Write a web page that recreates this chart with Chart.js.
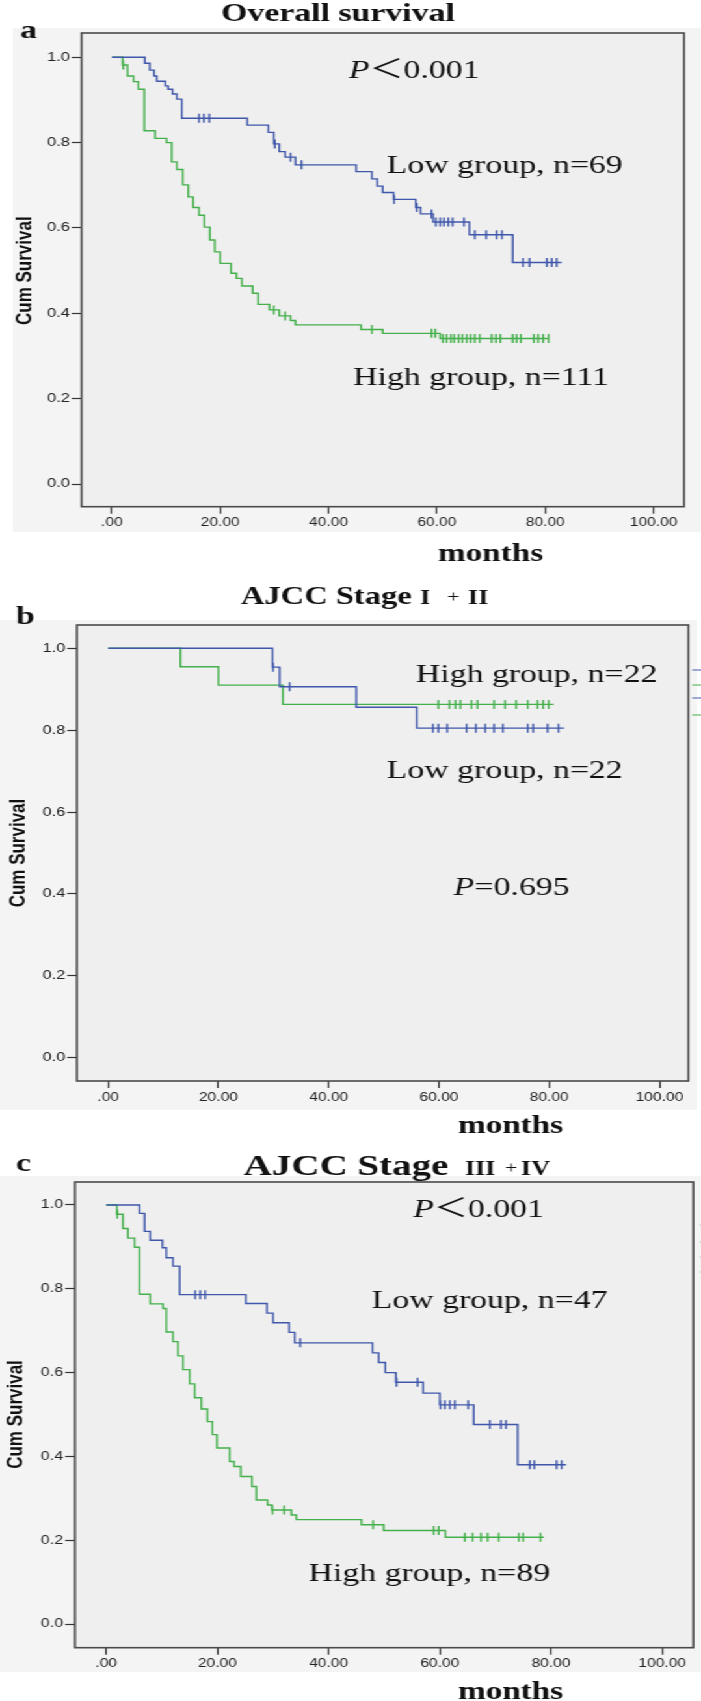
<!DOCTYPE html>
<html>
<head>
<meta charset="utf-8">
<script src="https://cdn.jsdelivr.net/npm/chart.js@4.4.0/dist/chart.umd.min.js"></script>
<style>
  html, body { margin: 0; padding: 0; background: #fff; }
  /* the original figure is stretched sideways, so draw narrow and stretch */
  #wrap { position: absolute; left: 0; top: 0; width: 539px; height: 1701px; transform: scaleX(1.3006); transform-origin: 0 0; }
  #wrap canvas { position: absolute; left: 0; }
</style>
</head>
<body>
<div id="wrap">
  <canvas id="panelA" width="539" height="570" style="top:0px;width:539px;height:570px"></canvas>
  <canvas id="panelB" width="539" height="570" style="top:570px;width:539px;height:570px"></canvas>
  <canvas id="panelC" width="539" height="561" style="top:1140px;width:539px;height:561px"></canvas>
</div>
<script>
const S = 701 / 539;
const BLUE = '#3f57aa';
const GREEN = '#44b04b';

const xTicks = [0, 20, 40, 60, 80, 100];
const yTicks = [0, 0.2, 0.4, 0.6, 0.8, 1.0];

// panel a - overall survival
const aLowT = [6.1, 7.0, 7.8, 8.3, 9.9, 10.4, 11.2, 12.0, 12.9, 25.0, 28.9, 29.9, 30.9, 32.0, 33.9, 45.1, 48.0, 49.0, 50.0, 52.0, 56.1, 57.0, 59.3, 66.0, 74.0];
const aLowS = [0.986, 0.970, 0.956, 0.944, 0.933, 0.925, 0.914, 0.902, 0.857, 0.841, 0.824, 0.797, 0.779, 0.766, 0.748, 0.732, 0.715, 0.698, 0.683, 0.667, 0.648, 0.633, 0.614, 0.584, 0.519];
const aLowCens = [16.1, 17.0, 18.0, 30.1, 33.0, 35.0, 52.1, 56.3, 59.0, 59.8, 60.6, 61.3, 62.1, 62.9, 65.0, 67.0, 69.1, 71.0, 72.0, 75.9, 77.1, 80.3, 81.2, 82.1];
const aLowEnd = 83.0;
const aHighT = [2.0, 2.9, 4.0, 4.9, 6.0, 8.0, 10.1, 11.05, 12.0, 13.1, 14.1, 15.0, 16.1, 17.1, 18.1, 19.0, 20.0, 22.0, 23.0, 24.0, 26.0, 27.0, 29.1, 30.9, 33.0, 33.9, 46.0, 50.0, 60.6];
const aHighS = [0.982, 0.956, 0.943, 0.925, 0.828, 0.810, 0.800, 0.755, 0.737, 0.701, 0.673, 0.648, 0.630, 0.602, 0.572, 0.544, 0.517, 0.494, 0.482, 0.464, 0.447, 0.421, 0.408, 0.394, 0.383, 0.373, 0.362, 0.353, 0.341];
const aHighCens = [2.1, 29.9, 32.0, 48.0, 59.0, 59.7, 61.1, 61.8, 62.6, 63.2, 64.0, 64.7, 65.5, 66.2, 67.0, 67.9, 70.1, 70.9, 71.7, 74.0, 74.7, 75.5, 77.9, 78.7, 79.6, 80.6];
const aHighEnd = 80.6;

// panel b - AJCC stage I + II
const bLowT = [29.8, 31.1, 45.0, 56.0];
const bLowS = [0.954, 0.906, 0.856, 0.805];
const bLowCens = [29.9, 32.9, 58.9, 59.9, 61.5, 65.0, 66.7, 68.4, 70.0, 71.6, 76.1, 77.1, 79.7, 81.7];
const bLowEnd = 82.7;
const bHighT = [13.1, 20.0, 31.7];
const bHighS = [0.955, 0.910, 0.863];
const bHighCens = [59.9, 61.9, 63.0, 63.9, 65.9, 67.0, 70.0, 72.0, 74.0, 76.1, 77.9, 78.9, 79.9];
const bHighEnd = 80.8;

// panel c - AJCC stage III + IV
const cLowT = [6.0, 6.9, 7.9, 10.1, 10.8, 12.0, 13.2, 25.1, 28.9, 30.0, 32.9, 33.9, 47.9, 49.0, 50.2, 52.1, 57.0, 60.0, 66.1, 74.0];
const cLowS = [0.980, 0.937, 0.916, 0.898, 0.874, 0.854, 0.786, 0.765, 0.742, 0.719, 0.696, 0.671, 0.647, 0.624, 0.600, 0.577, 0.551, 0.523, 0.476, 0.380];
const cLowCens = [16.0, 16.9, 17.8, 34.9, 52.2, 56.0, 60.1, 60.9, 61.8, 62.7, 65.1, 69.0, 71.0, 71.9, 76.2, 77.0, 81.0, 81.9];
const cLowEnd = 82.7;
const cHighT = [1.9, 3.0, 3.9, 5.1, 6.0, 7.9, 10.2, 10.8, 12.0, 12.9, 13.8, 15.0, 15.9, 17.1, 18.2, 19.1, 19.9, 22.2, 23.0, 24.2, 26.2, 27.0, 29.0, 29.8, 33.3, 34.2, 45.9, 49.9, 61.0];
const cHighS = [0.978, 0.944, 0.921, 0.899, 0.787, 0.764, 0.753, 0.697, 0.674, 0.640, 0.607, 0.573, 0.540, 0.513, 0.483, 0.452, 0.420, 0.388, 0.376, 0.352, 0.328, 0.296, 0.284, 0.272, 0.260, 0.249, 0.237, 0.223, 0.207];
const cHighCens = [2.0, 29.9, 32.0, 48.0, 58.9, 59.8, 64.5, 65.9, 67.4, 68.6, 70.6, 74.2, 75.0, 78.1];
const cHighEnd = 78.7;

function survAt(times, surv, t) {
  let s = 1;
  times.forEach((tt, i) => { if (tt <= t) s = surv[i]; });
  return s;
}
function kmPoints(times, surv, end) {
  const pts = [{ x: 0, y: 1 }];
  times.forEach((t, i) => pts.push({ x: t, y: surv[i] }));
  pts.push({ x: end, y: surv[surv.length - 1] });
  return pts;
}
function censPoints(times, surv, cens) {
  return cens.map(t => ({ x: t, y: survAt(times, surv, t) }));
}

const SERIF = "'Liberation Serif', 'Times New Roman', 'Noto Sans CJK SC', serif";
const SANS = "'Liberation Sans', Arial, sans-serif";

// parts: [text, font, left x?, baseline shift?] drawn one after another (full-size px)
function drawParts(ctx, parts, xFull, yBase, top) {
  let x = xFull / S;
  ctx.textAlign = 'left';
  ctx.textBaseline = 'alphabetic';
  ctx.fillStyle = '#111';
  parts.forEach(p => {
    ctx.font = p[1];
    if (p[2] !== undefined) x = p[2] / S;
    ctx.fillText(p[0], x, yBase - top + (p[3] || 0));
    x += ctx.measureText(p[0]).width;
  });
}

function makePanel(id, L, curves, texts) {
  const ppm = (L.x100 - L.x0) / 100;
  const ppu = L.y0 - L.y1;
  const XH = 28;

  const datasets = [];
  curves.forEach(c => {
    datasets.push({
      type: 'line', data: kmPoints(c.t, c.s, c.end), stepped: true,
      borderColor: c.color, borderWidth: 1.4, pointRadius: 0, fill: false
    });
    datasets.push({
      type: 'scatter', data: censPoints(c.t, c.s, c.cens),
      pointStyle: 'line', pointRotation: 90, pointRadius: 4.5,
      pointBorderColor: c.color, borderColor: c.color, pointBorderWidth: 1.4
    });
  });

  const panelDeco = {
    id: 'panelDeco',
    beforeDraw(chart) {
      const ctx = chart.ctx;
      const a = chart.chartArea;
      ctx.save();
      ctx.fillStyle = '#ffffff';
      ctx.fillRect(0, 0, chart.width, chart.height);
      ctx.fillStyle = '#f4f4f4';
      ctx.fillRect(L.gx0 / S, L.gy0 - L.top, (L.gx1 - L.gx0) / S, L.gy1 - L.gy0);
      ctx.fillStyle = '#efefef';
      ctx.fillRect(a.left, a.top, a.right - a.left, a.bottom - a.top);
      ctx.restore();
    },
    afterDraw(chart) {
      const ctx = chart.ctx;
      const a = chart.chartArea;
      ctx.save();
      ctx.strokeStyle = '#4a4a4a';
      ctx.lineWidth = 1.6;
      ctx.strokeRect(a.left, a.top, a.right - a.left, a.bottom - a.top);

      // bits of the cut-off legend at the right edge
      ctx.lineWidth = 1;
      (L.legendBits || []).forEach(b => {
        ctx.strokeStyle = b[1];
        ctx.beginPath();
        ctx.moveTo(L.fRight / S + 3, b[0] - L.top);
        ctx.lineTo(chart.width, b[0] - L.top);
        ctx.stroke();
      });

      texts.forEach(t => drawParts(ctx, t.parts, t.x, t.y, L.top));

      // y axis title
      ctx.translate(L.ytx / S, (L.y0 + L.y1) / 2 - L.top);
      ctx.rotate(-Math.PI / 2);
      ctx.font = 'bold 17px ' + SANS;
      ctx.fillStyle = '#111';
      ctx.textAlign = 'center';
      ctx.textBaseline = 'middle';
      ctx.fillText('Cum Survival', 0, 0);
      ctx.restore();
    }
  };

  return new Chart(document.getElementById(id), {
    type: 'scatter',
    data: { datasets: datasets },
    plugins: [panelDeco],
    options: {
      responsive: false,
      animation: false,
      devicePixelRatio: 1,
      events: [],
      layout: {
        padding: {
          top: L.fTop - L.top,
          bottom: L.h - (L.fBottom - L.top) - XH,
          left: 0,
          right: (701 - L.fRight) / S
        }
      },
      plugins: { legend: { display: false }, tooltip: { enabled: false } },
      scales: {
        x: {
          type: 'linear',
          min: (L.fLeft - L.x0) / ppm,
          max: (L.fRight - L.x0) / ppm,
          afterBuildTicks: s => { s.ticks = xTicks.map(v => ({ value: v })); },
          afterFit: s => { s.height = XH; },
          border: { display: false },
          grid: { drawOnChartArea: false, drawTicks: true, tickLength: 7, tickColor: '#333', tickWidth: 1.2 },
          ticks: {
            color: '#222', padding: 2, maxRotation: 0, autoSkip: false,
            font: { family: SANS, size: 12 },
            callback: v => (v === 0 ? '.00' : v.toFixed(2))
          }
        },
        y: {
          type: 'linear',
          min: -(L.fBottom - L.y0) / ppu,
          max: (L.y0 - L.fTop) / ppu,
          afterBuildTicks: s => { s.ticks = yTicks.map(v => ({ value: v })); },
          afterFit: s => { s.width = L.fLeft / S; },
          border: { display: false },
          grid: { drawOnChartArea: false, drawTicks: true, tickLength: 7.5, tickColor: '#333', tickWidth: 1.2 },
          ticks: {
            color: '#222', padding: 1.5,
            font: { family: SANS, size: 12.5 },
            callback: v => v.toFixed(1)
          }
        }
      }
    }
  });
}

const bold26 = 'bold 26px ' + SERIF;
const reg26 = '26px ' + SERIF;
const ital26 = 'italic 26px ' + SERIF;
const months = { parts: [['months', 'bold 25.5px ' + SERIF]] };

makePanel('panelA',
  { top: 0, h: 570, gx0: 13, gx1: 701, gy0: 28, gy1: 532,
    fLeft: 81.5, fRight: 684, fTop: 33, fBottom: 506.7,
    x0: 111.8, x100: 653.6, y0: 484, y1: 57.3, ytx: 24.7 },
  [
    { t: aLowT, s: aLowS, cens: aLowCens, end: aLowEnd, color: BLUE },
    { t: aHighT, s: aHighS, cens: aHighCens, end: aHighEnd, color: GREEN }
  ],
  [
    { parts: [['Overall survival', bold26]], x: 221, y: 21 },
    { parts: [['a', bold26]], x: 20, y: 37.5 },
    { parts: [['P', ital26], ['\uFF1C0.001', reg26]], x: 349, y: 78 },
    { parts: [['Low group, n=69', reg26]], x: 386.7, y: 172.7 },
    { parts: [['High group, n=111', reg26]], x: 353, y: 385 },
    Object.assign({ x: 438, y: 561 }, months)
  ]);

makePanel('panelB',
  { top: 570, h: 570, gx0: 0, gx1: 697, gy0: 620, gy1: 1110,
    fLeft: 76.9, fRight: 688.4, fTop: 625, fBottom: 1081,
    x0: 108.2, x100: 659.4, y0: 1057.8, y1: 648.3, ytx: 18.4,
    legendBits: [[670, BLUE], [685, GREEN], [698, BLUE], [715, GREEN]] },
  [
    { t: bLowT, s: bLowS, cens: bLowCens, end: bLowEnd, color: BLUE },
    { t: bHighT, s: bHighS, cens: bHighCens, end: bHighEnd, color: GREEN }
  ],
  [
    { parts: [['AJCC Stage', 'bold 25px ' + SERIF], ['I', 'bold 20px ' + SERIF, 420], ['+', '17px ' + SERIF, 447, -2], ['II', 'bold 20px ' + SERIF, 468]], x: 241, y: 604 },
    { parts: [['b', bold26]], x: 16, y: 624 },
    { parts: [['High group, n=22', reg26]], x: 415.7, y: 682.3 },
    { parts: [['Low group, n=22', reg26]], x: 386.7, y: 777.7 },
    { parts: [['P', ital26], ['=0.695', reg26]], x: 453.7, y: 895 },
    Object.assign({ x: 458, y: 1133 }, months)
  ]);

makePanel('panelC',
  { top: 1140, h: 561, gx0: 0, gx1: 701, gy0: 1176, gy1: 1672,
    fLeft: 75, fRight: 696.5, fTop: 1182, fBottom: 1647.7,
    x0: 106.4, x100: 665.2, y0: 1624, y1: 1205, ytx: 15.6,
    legendBits: [[1225, '#8c8c8c'], [1242, GREEN], [1257, '#8c8c8c'], [1272, GREEN]] },
  [
    { t: cLowT, s: cLowS, cens: cLowCens, end: cLowEnd, color: BLUE },
    { t: cHighT, s: cHighS, cens: cHighCens, end: cHighEnd, color: GREEN }
  ],
  [
    { parts: [['AJCC Stage', 'bold 30px ' + SERIF], ['III', 'bold 20px ' + SERIF, 465], ['+', '17px ' + SERIF, 505, -2], ['IV', 'bold 20px ' + SERIF, 521]], x: 243.6, y: 1175 },
    { parts: [['c', bold26]], x: 16, y: 1171 },
    { parts: [['P', ital26], ['\uFF1C0.001', reg26]], x: 413.3, y: 1217.3 },
    { parts: [['Low group, n=47', reg26]], x: 371.7, y: 1307.7 },
    { parts: [['High group, n=89', reg26]], x: 308.4, y: 1580.7 },
    Object.assign({ x: 458, y: 1699 }, months)
  ]);
</script>
</body>
</html>
